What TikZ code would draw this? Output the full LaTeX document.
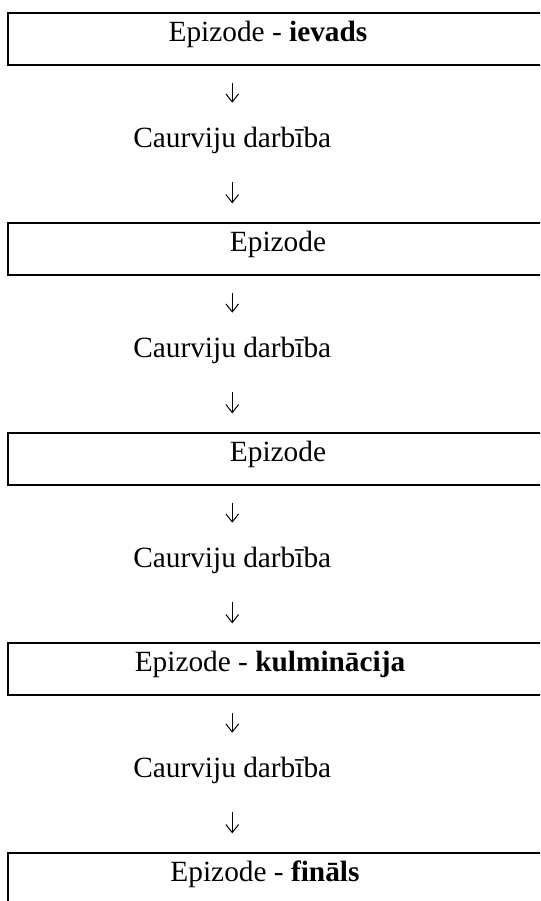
\documentclass[tikz,border=0pt]{standalone}
\usepackage{fontspec}
\setmainfont{Liberation Serif}
\usetikzlibrary{arrows.meta}
\begin{document}
\begin{tikzpicture}[x=0.75pt,y=-0.75pt,
  box/.style={draw, line width=1.4pt, inner sep=0pt, anchor=north west,
    minimum width=403.5pt, minimum height=39pt},
  lbl/.style={inner sep=0pt, font=\fontsize{22}{26}\selectfont,
    text height=15pt, text depth=5pt},
  arr/.style={line width=0.75pt, -{Straight Barb[length=6pt,width=9.5pt,line width=0.75pt]}},
  down1/.style={shorten <=13pt, shorten >=18pt},
  down2/.style={shorten <=21pt, shorten >=14pt}]
\useasboundingbox (0,0) rectangle (540,901);
\clip (0,0) rectangle (540,901);
% boxes
\node[box] (b1) at (7,12) {};
\node[box] (b2) at (7,222) {};
\node[box] (b3) at (7,432) {};
\node[box] (b4) at (7,642) {};
\node[box] (b5) at (7,852) {};
% box labels
\node[lbl, anchor=base] (t1) at (268,41) {Epizode - \textbf{ievads}};
\node[lbl, anchor=base] (t2) at (278,251) {Epizode};
\node[lbl, anchor=base] (t3) at (278,461) {Epizode};
\node[lbl, anchor=base] (t4) at (270,671) {Epizode - \textbf{kulminācija}};
\node[lbl, anchor=base] (t5) at (265,881) {Epizode - \textbf{fināls}};
% through-action labels
\node[lbl, anchor=base west] (c1) at (133,147) {Caurviju darbība};
\node[lbl, anchor=base west] (c2) at (133,357) {Caurviju darbība};
\node[lbl, anchor=base west] (c3) at (133,567) {Caurviju darbība};
\node[lbl, anchor=base west] (c4) at (133,777) {Caurviju darbība};
% arrows
\draw[arr, down1] (b1.south -| c1.north) -- (c1.north);
\draw[arr, down2] (c1.south) -- (b2.north -| c1.south);
\draw[arr, down1] (b2.south -| c2.north) -- (c2.north);
\draw[arr, down2] (c2.south) -- (b3.north -| c2.south);
\draw[arr, down1] (b3.south -| c3.north) -- (c3.north);
\draw[arr, down2] (c3.south) -- (b4.north -| c3.south);
\draw[arr, down1] (b4.south -| c4.north) -- (c4.north);
\draw[arr, down2] (c4.south) -- (b5.north -| c4.south);
\end{tikzpicture}
\end{document}
